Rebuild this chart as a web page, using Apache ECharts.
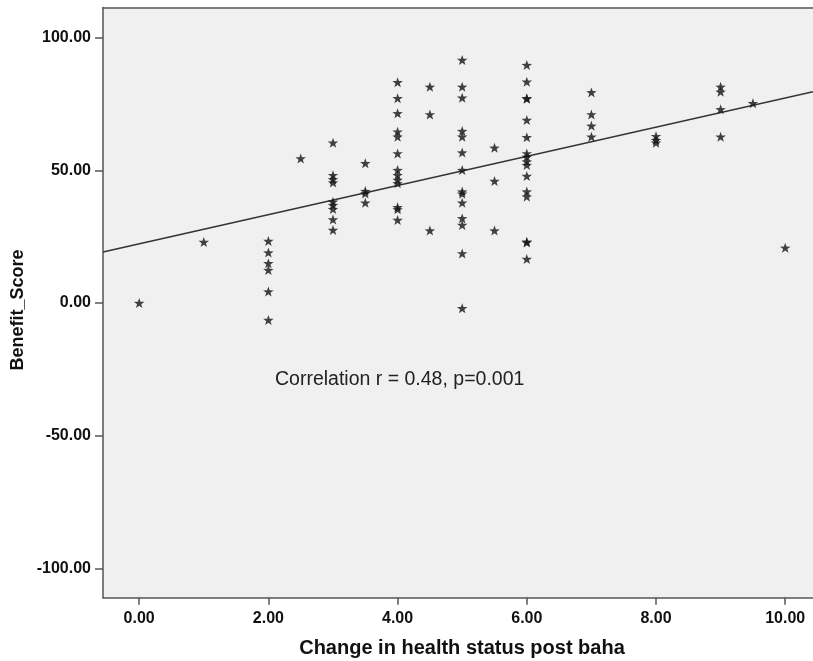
<!DOCTYPE html>
<html>
<head>
<meta charset="utf-8">
<script src="https://cdn.jsdelivr.net/npm/echarts@6/dist/echarts.min.js"></script>
<style>
  html, body { margin: 0; padding: 0; background: #ffffff; }
  #chart { width: 813px; height: 661px; }
</style>
</head>
<body>
<div id="chart"></div>
<script>
// Change in health status after the Baha fitting (x) against the benefit score (y)
const healthChange = [
  0,
  1,
  2, 2, 2, 2, 2, 2,
  2.5,
  3, 3, 3, 3, 3, 3, 3, 3, 3,
  3.5, 3.5, 3.5, 3.5,
  4, 4, 4, 4, 4, 4, 4, 4, 4, 4, 4, 4, 4,
  4.5, 4.5, 4.5,
  5, 5, 5, 5, 5, 5, 5, 5, 5, 5, 5, 5, 5, 5,
  5.5, 5.5, 5.5,
  6, 6, 6, 6, 6, 6, 6, 6, 6, 6, 6, 6, 6, 6, 6, 6,
  7, 7, 7, 7,
  8, 8, 8,
  9, 9, 9, 9,
  9.5,
  10
];
const benefitScore = [
  0.0,
  23.0,
  23.4, 19.0, 15.0, 12.4, 4.3, -6.4,
  54.5,
  60.4, 48.2, 46.6, 45.4, 38.2, 36.9, 35.4, 31.5, 27.5,
  52.7, 42.2, 41.3, 37.8,
  83.2, 77.2, 71.5, 64.6, 62.7, 56.4, 50.1, 48.2, 46.4, 45.1, 36.1, 35.3, 31.3,
  81.5, 71.1, 27.3,
  91.6, 81.5, 77.4, 64.8, 62.7, 56.7, 50.1, 42.0, 41.2, 37.8, 31.9, 29.4, 18.7, -2.0,
  58.5, 46.0, 27.3,
  89.7, 83.4, 77.2, 77.0, 69.0, 62.5, 56.4, 55.1, 53.3, 52.0, 47.9, 42.0, 40.1, 23.1, 22.8, 16.6,
  79.4, 71.1, 66.8, 62.7,
  62.9, 61.4, 60.4,
  81.5, 79.6, 73.0, 62.7,
  75.3,
  20.8
];

// Tick positions
const xTicks = [0, 2, 4, 6, 8, 10];
const yTicks = [-100, -50, 0, 50, 100];

// Linear fit line: benefit = fitIntercept + fitSlope * change
const fitIntercept = 22.3;
const fitSlope = 5.5;

const xMin = -0.56, xMax = 10.43;
const yMin = -111.1, yMax = 111.4;

const points = healthChange.map((x, i) => [x, benefitScore[i]]);
const fitLine = [xMin, xMax].map(x => [x, fitIntercept + fitSlope * x]);

const starPath = 'path://M0,-1L0.235,-0.324L0.951,-0.309L0.38,0.124L0.588,0.809L0,0.4L-0.588,0.809L-0.38,0.124L-0.951,-0.309L-0.235,-0.324Z';

const FONT = '"Liberation Sans", Arial, sans-serif';
const axisColor = '#555555';

const chart = echarts.init(document.getElementById('chart'), null, { renderer: 'canvas' });

chart.setOption({
  animation: false,
  backgroundColor: '#ffffff',
  grid: {
    left: 103, top: 7.5, right: 0, bottom: 63.3,
    show: true,
    backgroundColor: '#f0f0f0',
    borderWidth: 0
  },
  xAxis: [
    {
      type: 'value',
      min: xMin, max: xMax,
      axisLine: { show: true, onZero: false, lineStyle: { color: axisColor, width: 1.5 } },
      axisTick: { show: true, length: 7, customValues: xTicks, lineStyle: { color: axisColor, width: 1.5 } },
      axisLabel: {
        customValues: xTicks,
        formatter: v => v.toFixed(2),
        color: '#111', fontFamily: FONT, fontWeight: 'bold', fontSize: 16, margin: 13
      },
      splitLine: { show: false }
    },
    {
      // top frame edge of the plot area
      type: 'value',
      position: 'top',
      min: xMin, max: xMax,
      axisLine: { show: true, onZero: false, lineStyle: { color: axisColor, width: 1.5 } },
      axisTick: { show: false },
      axisLabel: { show: false },
      splitLine: { show: false }
    }
  ],
  yAxis: {
    type: 'value',
    min: yMin, max: yMax,
    axisLine: { show: true, onZero: false, lineStyle: { color: axisColor, width: 1.5 } },
    axisTick: { show: true, length: 8, customValues: yTicks, lineStyle: { color: axisColor, width: 1.5 } },
    axisLabel: {
      customValues: yTicks,
      formatter: v => v.toFixed(2),
      color: '#111', fontFamily: FONT, fontWeight: 'bold', fontSize: 16, margin: 12
    },
    splitLine: { show: false }
  },
  series: [
    {
      type: 'line',
      data: fitLine,
      showSymbol: false,
      lineStyle: { color: '#333333', width: 1.5 },
      z: 2
    },
    {
      type: 'scatter',
      data: points,
      symbol: starPath,
      symbolSize: [10.5, 10],
      itemStyle: { color: '#141414' },
      z: 3
    }
  ],
  graphic: [
    {
      type: 'text',
      left: 275, top: 370,
      style: {
        text: 'Correlation r = 0.48, p=0.001',
        font: '19.5px ' + FONT,
        fill: '#222'
      }
    },
    {
      type: 'text',
      x: 18, y: 310,
      rotation: Math.PI / 2,
      style: {
        text: 'Benefit_Score',
        font: 'bold 18px ' + FONT,
        fill: '#111',
        align: 'center',
        verticalAlign: 'middle'
      }
    },
    {
      type: 'text',
      x: 462, y: 648,
      style: {
        text: 'Change in health status post baha',
        font: 'bold 20px ' + FONT,
        fill: '#111',
        align: 'center',
        verticalAlign: 'middle'
      }
    }
  ]
});
</script>
</body>
</html>
